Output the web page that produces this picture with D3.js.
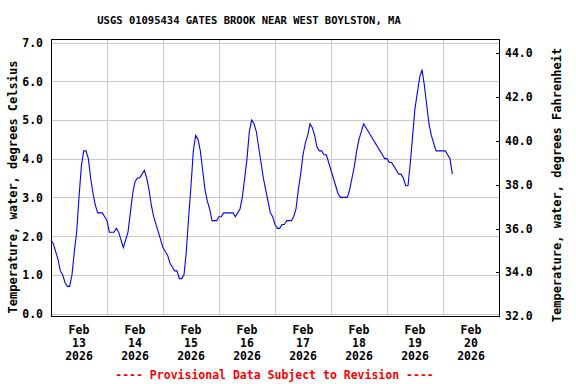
<!DOCTYPE html>
<html>
<head>
<meta charset="utf-8">
<script src="https://cdn.jsdelivr.net/npm/d3@7"></script>
<style>
    body { margin: 0; background: #fff; }
    #chart text {
        font-family: "DejaVu Sans Mono", monospace;
        font-weight: bold;
        fill: #000;
    }
    #chart .grid line { stroke: #c8c8c8; stroke-width: 1; shape-rendering: crispEdges; }
    #chart .frame { fill: none; stroke: #000; stroke-width: 1; shape-rendering: crispEdges; }
    #chart .temp { fill: none; stroke: #0000ff; stroke-width: 1.1; }
</style>
</head>
<body>
<div id="chart"></div>
<script>
    // hourly water temperature, deg C, starting Feb 13 2026 00:00
    const startTime = Date.UTC(2026, 1, 13, 0, 0);
    const tempC = [
        1.9, 1.8, 1.6, 1.4, 1.1, 1.0, 0.8, 0.7, 0.7, 1.0,
        1.6, 2.1, 3.0, 3.8, 4.2, 4.2, 4.0, 3.5, 3.1, 2.8,
        2.6, 2.6, 2.6, 2.5, 2.4, 2.1, 2.1, 2.1, 2.2, 2.1,
        1.9, 1.7, 1.9, 2.1, 2.6, 3.1, 3.4, 3.5, 3.5, 3.6,
        3.7, 3.5, 3.2, 2.8, 2.5, 2.3, 2.1, 1.9, 1.7, 1.6,
        1.5, 1.3, 1.2, 1.1, 1.1, 0.9, 0.9, 1.0, 1.6, 2.5,
        3.3, 4.2, 4.6, 4.5, 4.2, 3.7, 3.2, 2.9, 2.7, 2.4,
        2.4, 2.4, 2.5, 2.5, 2.6, 2.6, 2.6, 2.6, 2.6, 2.5,
        2.6, 2.7, 3.0, 3.5, 4.0, 4.7, 5.0, 4.9, 4.7, 4.3,
        3.9, 3.5, 3.2, 2.9, 2.6, 2.5, 2.3, 2.2, 2.2, 2.3,
        2.3, 2.4, 2.4, 2.4, 2.5, 2.7, 3.2, 3.6, 4.1, 4.4,
        4.6, 4.9, 4.8, 4.6, 4.3, 4.2, 4.2, 4.1, 4.1, 3.9,
        3.7, 3.5, 3.3, 3.1, 3.0, 3.0, 3.0, 3.0, 3.2, 3.5,
        3.8, 4.2, 4.5, 4.7, 4.9, 4.8, 4.7, 4.6, 4.5, 4.4,
        4.3, 4.2, 4.1, 4.0, 4.0, 3.9, 3.9, 3.8, 3.7, 3.6,
        3.6, 3.5, 3.3, 3.3, 3.9, 4.6, 5.3, 5.7, 6.1, 6.3,
        5.9, 5.4, 4.9, 4.6, 4.4, 4.2, 4.2, 4.2, 4.2, 4.2,
        4.1, 4.0, 3.6
    ];
    const celsiusTicks = [0, 1, 2, 3, 4, 5, 6, 7];
    const fahrenheitTicks = [32, 34, 36, 38, 40, 42, 44];
    const dayLabels = ["13", "14", "15", "16", "17", "18", "19", "20"];
    const title = "USGS 01095434 GATES BROOK NEAR WEST BOYLSTON, MA";
    const footer = "---- Provisional Data Subject to Revision ----";

    (function () {
        const width = 576, height = 384;
        const left = 51, right = 499, top = 39, bottom = 316;

        const svg = d3.select("#chart").append("svg")
            .attr("width", width)
            .attr("height", height);

        const hour = 3600 * 1000;
        const x = d3.scaleUtc()
            .domain([new Date(startTime), new Date(startTime + 8 * 24 * hour)])
            .range([left, right]);
        const y = d3.scaleLinear().domain([0, 7]).range([313.5, 42.5]);
        const yF = d3.scaleLinear().domain([32, 44]).range([316.3, 53.4]);

        // gridlines
        const grid = svg.append("g").attr("class", "grid");
        grid.selectAll("line.h")
            .data(celsiusTicks)
            .enter().append("line")
            .attr("x1", left).attr("x2", right)
            .attr("y1", d => Math.round(y(d)) + 0.5)
            .attr("y2", d => Math.round(y(d)) + 0.5);

        const midnights = d3.utcDay.range(new Date(startTime + 24 * hour), new Date(startTime + 8 * 24 * hour));
        grid.selectAll("line.v")
            .data(midnights)
            .enter().append("line")
            .attr("x1", d => Math.round(x(d)) + 0.5)
            .attr("x2", d => Math.round(x(d)) + 0.5)
            .attr("y1", top).attr("y2", bottom);

        // data line
        const series = tempC.map((v, i) => ({ t: new Date(startTime + i * hour), v: v }));
        svg.append("path")
            .datum(series)
            .attr("class", "temp")
            .attr("d", d3.line().x(d => x(d.t)).y(d => y(d.v)));

        // frame
        svg.append("rect")
            .attr("class", "frame")
            .attr("x", left + 0.5).attr("y", top + 0.5)
            .attr("width", right - left).attr("height", bottom - top);

        // left axis labels
        svg.append("g").selectAll("text")
            .data(celsiusTicks)
            .enter().append("text")
            .attr("x", 43)
            .attr("y", d => y(d) + 4.5)
            .attr("text-anchor", "end")
            .style("font-size", "11.5px")
            .text(d => d.toFixed(1));

        // right axis ticks + labels
        const rightAxis = svg.append("g");
        rightAxis.selectAll("line")
            .data(fahrenheitTicks)
            .enter().append("line")
            .attr("x1", right - 3).attr("x2", right + 0.5)
            .attr("y1", d => Math.round(yF(d)) + 0.5)
            .attr("y2", d => Math.round(yF(d)) + 0.5)
            .style("stroke", "#000")
            .style("shape-rendering", "crispEdges");
        rightAxis.selectAll("text")
            .data(fahrenheitTicks)
            .enter().append("text")
            .attr("x", 505)
            .attr("y", d => yF(d) + 4)
            .style("font-size", "11.5px")
            .text(d => d.toFixed(1));

        // x labels at noon of each day
        const days = d3.utcDay.range(new Date(startTime), new Date(startTime + 8 * 24 * hour));
        const xl = svg.append("g").selectAll("text")
            .data(days)
            .enter().append("text")
            .attr("text-anchor", "middle")
            .style("font-size", "11.5px");
        xl.append("tspan")
            .attr("x", d => x(new Date(+d + 12 * hour)))
            .attr("y", 334)
            .text("Feb");
        xl.append("tspan")
            .attr("x", d => x(new Date(+d + 12 * hour)))
            .attr("y", 347)
            .text((d, i) => dayLabels[i]);
        xl.append("tspan")
            .attr("x", d => x(new Date(+d + 12 * hour)))
            .attr("y", 360)
            .text(d => d.getUTCFullYear());

        // axis titles
        svg.append("text")
            .attr("transform", "translate(16.5,187) rotate(-90)")
            .attr("text-anchor", "middle")
            .style("font-size", "12px")
            .text("Temperature, water, degrees Celsius");
        svg.append("text")
            .attr("transform", "translate(560.5,185) rotate(-90)")
            .attr("text-anchor", "middle")
            .style("font-size", "12px")
            .text("Temperature, water, degrees Fahrenheit");

        // title + footer
        svg.append("text")
            .attr("x", 249).attr("y", 24)
            .attr("text-anchor", "middle")
            .style("font-size", "10.5px")
            .text(title);
        svg.append("text")
            .attr("x", 274.5).attr("y", 379)
            .attr("text-anchor", "middle")
            .style("font-size", "11.5px")
            .style("fill", "#ff0000")
            .text(footer);
    })();
</script>
</body>
</html>
